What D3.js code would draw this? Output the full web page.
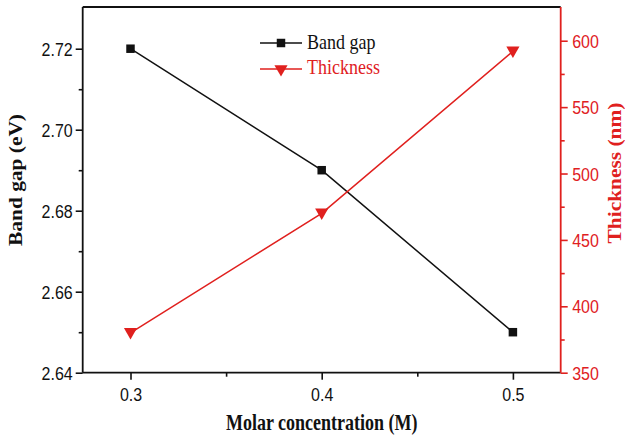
<!DOCTYPE html>
<html><head><meta charset="utf-8">
<script src="https://cdn.jsdelivr.net/npm/d3@7"></script>
<style>body{margin:0;background:#fff}</style>
</head><body>
<svg id="c" width="625" height="435"></svg>
<script>
const concentrations = [0.3, 0.4, 0.5];
const bandGap = [2.72, 2.69, 2.65];
const thickness = [380, 470, 592];
const xTicks = [0.3, 0.4, 0.5];
const leftTicks = [2.64, 2.66, 2.68, 2.70, 2.72];
const rightTicks = [350, 400, 450, 500, 550, 600];
const seriesNames = ["Band gap", "Thickness"];

const svg = d3.select("#c");
const L = 82.7, R = 560.7, T = 7, B = 372.7;
const red = "#e0201e", blk = "#111";
const sans = "'Liberation Sans', Arial, sans-serif";
const serif = "'Liberation Serif', 'Times New Roman', serif";
const x = d3.scaleLinear().domain([0.275, 0.525]).range([L, R]);
const yL = d3.scaleLinear().domain([2.64, 2.7303]).range([B, T]);
const yR = d3.scaleLinear().domain([350, 625.4]).range([B, T]);

function styleAxis(g, color) {
  g.select(".domain").remove();
  g.selectAll("line").attr("stroke", color).attr("stroke-width", 1.6);
  g.selectAll("text").attr("fill", color).attr("font-family", sans).attr("font-size", 16);
}
// minor ticks
svg.append("g").attr("transform", `translate(0,${B})`)
  .call(d3.axisBottom(x).tickValues([0.35, 0.45]).tickSize(4).tickFormat(""))
  .call(g => styleAxis(g, blk));
svg.append("g").attr("transform", `translate(${L},0)`)
  .call(d3.axisLeft(yL).tickValues([2.65, 2.67, 2.69, 2.71]).tickSize(4).tickFormat(""))
  .call(g => styleAxis(g, blk));
svg.append("g").attr("transform", `translate(${R},0)`)
  .call(d3.axisRight(yR).tickValues([375, 425, 475, 525, 575]).tickSize(4).tickFormat(""))
  .call(g => styleAxis(g, red));
// major
svg.append("g").attr("transform", `translate(0,${B})`)
  .call(d3.axisBottom(x).tickValues(xTicks).tickSize(7).tickFormat(d3.format(".1f")))
  .call(g => styleAxis(g, blk))
  .call(g => g.selectAll("text").attr("y", 0).attr("dy", 0).attr("transform", "translate(0,28.3) scale(1,1.16)"));
svg.append("g").attr("transform", `translate(${L},0)`)
  .call(d3.axisLeft(yL).tickValues(leftTicks).tickSize(7).tickPadding(3).tickFormat(d3.format(".2f")))
  .call(g => styleAxis(g, blk))
  .call(g => g.selectAll("text").attr("dy", 0).attr("transform", "translate(0,6.6) scale(1,1.16)"));
svg.append("g").attr("transform", `translate(${R},0)`)
  .call(d3.axisRight(yR).tickValues(rightTicks).tickSize(7).tickPadding(4.5).tickFormat(d3.format("d")))
  .call(g => styleAxis(g, red))
  .call(g => g.selectAll("text").attr("dy", 0).attr("transform", "translate(0,6.6) scale(1,1.16)"));

// frame
svg.append("line").attr("x1", L).attr("x2", R).attr("y1", T).attr("y2", T).attr("stroke", blk).attr("stroke-width", 1.8);
svg.append("line").attr("x1", L).attr("x2", R).attr("y1", B).attr("y2", B).attr("stroke", blk).attr("stroke-width", 1.8);
svg.append("line").attr("x1", L).attr("x2", L).attr("y1", T).attr("y2", B).attr("stroke", blk).attr("stroke-width", 1.8);
svg.append("line").attr("x1", R).attr("x2", R).attr("y1", T).attr("y2", B).attr("stroke", red).attr("stroke-width", 1.8);

// lines
const bgData = concentrations.map((c, i) => [c, bandGap[i]]);
const thData = concentrations.map((c, i) => [c, thickness[i]]);
svg.append("path").datum(bgData).attr("fill", "none").attr("stroke", blk).attr("stroke-width", 1.5)
  .attr("d", d3.line().x(d => x(d[0])).y(d => yL(d[1])));
svg.append("path").datum(thData).attr("fill", "none").attr("stroke", red).attr("stroke-width", 1.5)
  .attr("d", d3.line().x(d => x(d[0])).y(d => yR(d[1])));
const sq = d3.symbol().type(d3.symbolSquare).size(72);
const tri = d3.symbol().type(d3.symbolTriangle).size(75);
svg.selectAll(".bg").data(bgData).enter().append("path")
  .attr("d", sq).attr("fill", blk).attr("transform", d => `translate(${x(d[0])},${yL(d[1])})`);
svg.selectAll(".th").data(thData).enter().append("path")
  .attr("d", tri).attr("fill", red).attr("transform", d => `translate(${x(d[0])},${yR(d[1]) - 1}) rotate(180)`);

// legend
const lg = [{name: seriesNames[0], color: blk, sym: sq, rot: 0, y: 43, base: 48.7},
            {name: seriesNames[1], color: red, sym: tri, rot: 180, y: 69, base: 73.7}];
lg.forEach(d => {
  svg.append("line").attr("x1", 260).attr("x2", 302).attr("y1", d.y).attr("y2", d.y).attr("stroke", d.color).attr("stroke-width", 1.5);
  svg.append("path").attr("d", d.sym).attr("fill", d.color).attr("transform", `translate(281,${d.y}) rotate(${d.rot})`);
  svg.append("text").attr("transform", `translate(307,${d.base}) scale(1,1.18)`).text(d.name).attr("fill", d.color)
    .attr("font-family", serif).attr("font-size", 18);
});

// titles
svg.append("text").attr("transform", `translate(${(L + R) / 2},430) scale(1,1.25)`).attr("text-anchor", "middle")
  .attr("font-family", serif).attr("font-weight", "bold").attr("font-size", 18).attr("fill", blk)
  .text("Molar concentration (M)");
svg.append("text").attr("transform", `translate(22,180) rotate(-90) scale(1.19,1)`).attr("text-anchor", "middle")
  .attr("font-family", serif).attr("font-weight", "bold").attr("font-size", 18).attr("fill", blk)
  .text("Band gap (eV)");
svg.append("text").attr("transform", `translate(620.5,173) rotate(-90) scale(1.19,1)`).attr("text-anchor", "middle")
  .attr("font-family", serif).attr("font-weight", "bold").attr("font-size", 18).attr("fill", red)
  .text("Thickness (nm)");
</script>
</body></html>
